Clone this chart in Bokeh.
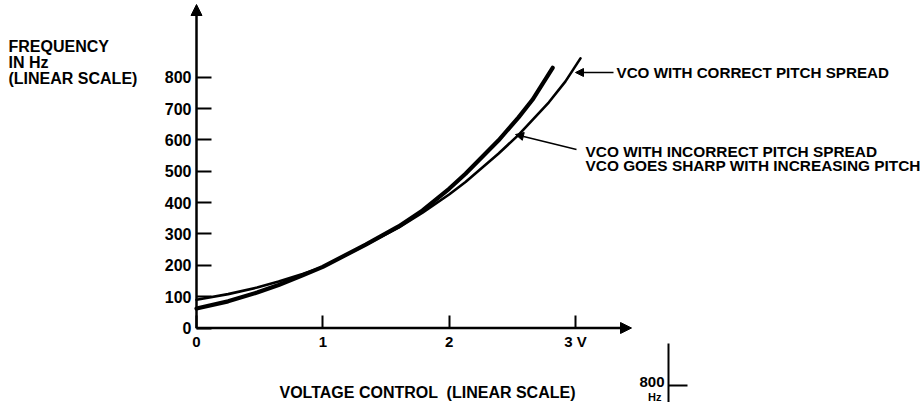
from bokeh.plotting import figure
from bokeh.models import LinearAxis, FixedTicker, Range1d, Arrow, NormalHead, Label
from bokeh.embed import file_html
from bokeh.resources import INLINE

# Oscillator frequency (Hz) against control voltage (V), both on linear scales
volts_correct = [0.0, 0.25, 0.48, 0.65, 0.84, 1.0, 1.34, 1.6, 1.79, 2.0, 2.13, 2.39, 2.55, 2.79, 2.92, 3.04]
hz_correct = [90, 108, 129, 148, 172, 195, 265, 320, 368, 426, 466, 556, 616, 720, 786, 860]

volts_incorrect = [0.0, 0.25, 0.48, 0.65, 0.84, 1.0, 1.34, 1.6, 1.79, 2.0, 2.13, 2.39, 2.55, 2.66, 2.82]
hz_incorrect = [62, 85, 113, 137, 168, 195, 266, 324, 375, 444, 492, 598, 672, 728, 830]

freq_ticks = [0, 100, 200, 300, 400, 500, 600, 700, 800]
volt_ticks = [0, 1, 2, 3]
volt_tick_labels = ["0", "1", "2", "3 V"]

# ---- page geometry -------------------------------------------------------
W, H = 922, 402
X0_PX, PX_PER_VOLT = 196.0, 126.3      # where 0 V sits and how wide one volt is
Y0_PX, PX_PER_HZ = 327.5, 0.3135       # where 0 Hz sits and how tall one hertz is

FONT = "Liberation Sans"


def sx(px):
    """Horizontal page pixel -> volts."""
    return (px - X0_PX) / PX_PER_VOLT


def sy(py):
    """Vertical page pixel (from top) -> hertz."""
    return (Y0_PX - py) / PX_PER_HZ


p = figure(
    width=W, height=H,
    x_range=Range1d(sx(0), sx(W)),
    y_range=Range1d(sy(H), sy(0)),
    x_axis_type=None, y_axis_type=None,
    min_border=0, outline_line_color=None,
    toolbar_location=None, output_backend="svg",
)
p.background_fill_color = "white"
p.border_fill_color = "white"

# ---- axes drawn through the origin ---------------------------------------
yaxis = LinearAxis(fixed_location=0, ticker=FixedTicker(ticks=freq_ticks))
yaxis.axis_line_color = None
yaxis.major_tick_in = 15
yaxis.major_tick_out = 0
yaxis.major_tick_line_width = 2
yaxis.minor_tick_line_color = None
yaxis.major_label_standoff = 5
yaxis.major_label_text_font = FONT
yaxis.major_label_text_font_style = "bold"
yaxis.major_label_text_font_size = "16px"
yaxis.major_label_text_color = "black"
p.add_layout(yaxis, "left")

xaxis = LinearAxis(fixed_location=0, ticker=FixedTicker(ticks=volt_ticks))
xaxis.axis_line_color = None
xaxis.major_tick_in = 13
xaxis.major_tick_out = 0
xaxis.major_tick_line_width = 2
xaxis.minor_tick_line_color = None
xaxis.major_label_standoff = 5
xaxis.major_label_overrides = {t: s for t, s in zip(volt_ticks, volt_tick_labels)}
xaxis.major_label_text_font = FONT
xaxis.major_label_text_font_style = "bold"
xaxis.major_label_text_font_size = "15px"
xaxis.major_label_text_color = "black"
p.add_layout(xaxis, "below")

# axis lines with arrowheads
p.add_layout(Arrow(end=NormalHead(size=11, fill_color="black", line_color="black"),
                   x_start=0, y_start=0, x_end=0, y_end=sy(4),
                   line_width=2.5, line_color="black"))
p.add_layout(Arrow(end=NormalHead(size=11, fill_color="black", line_color="black"),
                   x_start=0, y_start=0, x_end=sx(631), y_end=0,
                   line_width=2.5, line_color="black"))

# ---- response curves ------------------------------------------------------
p.line(volts_incorrect, hz_incorrect, line_width=4.2, line_color="black",
       line_cap="round", line_join="round")
p.line(volts_correct, hz_correct, line_width=2.6, line_color="black",
       line_cap="round", line_join="round")

# ---- callouts -------------------------------------------------------------
p.add_layout(Arrow(end=NormalHead(size=8, fill_color="black", line_color="black"),
                   x_start=sx(613), y_start=sy(72), x_end=sx(575), y_end=sy(72),
                   line_width=1.5, line_color="black"))
p.add_layout(Arrow(end=NormalHead(size=8, fill_color="black", line_color="black"),
                   x_start=sx(576), y_start=sy(149), x_end=sx(515), y_end=sy(134),
                   line_width=1.5, line_color="black"))


def add_text(text, px, py, size, align="left", baseline="middle"):
    p.add_layout(Label(x=sx(px), y=sy(py), text=text,
                       text_font=FONT, text_font_style="bold",
                       text_font_size=size, text_color="black",
                       text_align=align, text_baseline=baseline))


add_text("VCO WITH CORRECT PITCH SPREAD", 616, 72, "15.2px")
add_text("VCO WITH INCORRECT PITCH SPREAD", 585, 151, "15.4px")
add_text("VCO GOES SHARP WITH INCREASING PITCH", 585, 165, "15.4px")

# axis titles
add_text("FREQUENCY", 8, 46, "16px")
add_text("IN Hz", 8, 62, "16px")
add_text("(LINEAR SCALE)", 8, 78, "16px")
add_text("VOLTAGE CONTROL \u00a0(LINEAR SCALE)", 279, 392, "16px")

# edge of the neighbouring scale at the bottom right
p.segment(x0=[sx(668), sx(668)], y0=[sy(343), sy(385)],
          x1=[sx(668), sx(687)], y1=[sy(H), sy(385)],
          line_width=2, line_color="black")
add_text("800", 664, 381, "15px", align="right")
add_text("Hz", 661, 390, "11px", align="right", baseline="top")

open("out.html", "w").write(file_html(p, INLINE))
